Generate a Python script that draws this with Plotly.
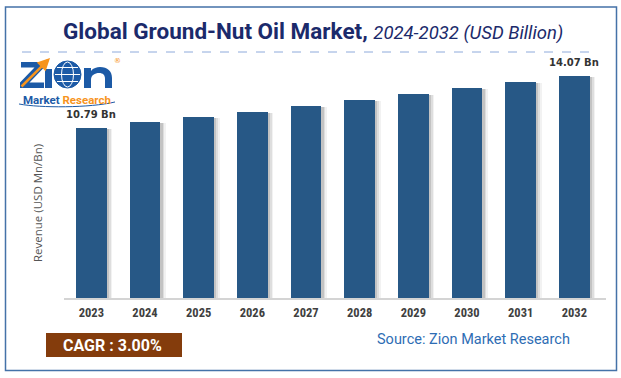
import re
import plotly.graph_objects as go

# ---- data ----
years = ["2023", "2024", "2025", "2026", "2027", "2028", "2029", "2030", "2031", "2032"]
revenue = [10.79, 11.12, 11.44, 11.77, 12.14, 12.51, 12.90, 13.28, 13.66, 14.07]
value_labels = ["10.79 Bn", "", "", "", "", "", "", "", "", "14.07 Bn"]
title_main = "Global Ground-Nut Oil Market,"
title_sub = "2024-2032 (USD Billion)"
y_title = "Revenue (USD Mn/Bn)"
cagr_text = "CAGR : 3.00%"
source_text = "Source: Zion Market Research"

# ---- layout geometry ----
W, H = 621, 378
L, R, T, B = 64, 15, 60, 80
PW, PH = W - L - R, H - T - B


def px(x):
    return (x - L) / PW


def py(y):
    return (H - B - y) / PH


def pth(s):
    """Convert a pixel-space SVG path (M/L/C/Z only) into paper coordinates."""
    toks = re.findall(r"[MLCZ]|-?\d+(?:\.\d+)?", s)
    out, nums = [], []
    for t in toks:
        if t in "MLCZ":
            out.append(t)
        else:
            nums.append(float(t))
            if len(nums) == 2:
                out.append(f"{px(nums[0]):.5f},{py(nums[1]):.5f}")
                nums = []
    return " ".join(out)


BAR_COLOR = "#275886"
NAVY = "#1b2a6b"
LOGO_BLUE = "#1c5aa6"
LOGO_ORANGE = "#f7941d"

fig = go.Figure()

# soft shadows to the right of each bar
drop = 0.06
for off, op in [(0.105, 0.08), (0.075, 0.13), (0.045, 0.2)]:
    fig.add_trace(go.Bar(
        x=years, y=[v - drop for v in revenue], width=0.572, offset=-0.286 + off,
        marker=dict(color=f"rgba(90,90,90,{op})", line=dict(width=0)),
        hoverinfo="skip", showlegend=False,
    ))

fig.add_trace(go.Bar(
    x=years, y=revenue, width=0.572, offset=-0.286,
    marker=dict(color=BAR_COLOR, line=dict(width=0)),
    showlegend=False,
))

annotations = []
for i, (v, lab) in enumerate(zip(revenue, value_labels)):
    if lab:
        annotations.append(dict(
            x=i, y=v, xref="x", yref="y", text=f"<b>{lab}</b>", showarrow=False,
            yanchor="bottom", yshift=6,
            font=dict(family="DejaVu Sans", size=10, color="#333333"),
        ))

# title
annotations.append(dict(
    x=px(313), y=py(31), xref="paper", yref="paper", showarrow=False,
    xanchor="center", yanchor="middle",
    text=(f"<b>{title_main}</b> "
          f"<span style='font-size:18.5px'><i>{title_sub}</i></span>"),
    font=dict(family="Roboto", size=22.5, color=NAVY),
))

# y-axis title
annotations.append(dict(
    x=px(37), y=py(203), xref="paper", yref="paper", showarrow=False,
    text=y_title, textangle=-90, xanchor="center", yanchor="middle",
    font=dict(family="Open Sans", size=11.5, color="#555555"),
))

# CAGR box text
annotations.append(dict(
    x=px(112), y=py(345), xref="paper", yref="paper", showarrow=False,
    text=f"<b>{cagr_text}</b>", xanchor="center", yanchor="middle",
    font=dict(family="Roboto", size=16, color="white"),
))

# source
annotations.append(dict(
    x=px(473), y=py(339), xref="paper", yref="paper", showarrow=False,
    text=source_text, xanchor="center", yanchor="middle",
    font=dict(family="Roboto", size=14.5, color="#2e6db4"),
))

# ---- logo texts ----
annotations += [
    dict(x=px(117), y=py(61), xref="paper", yref="paper", showarrow=False, text="®",
         xanchor="center", yanchor="middle", font=dict(family="DejaVu Sans", size=7, color=LOGO_ORANGE)),
    dict(x=px(66.5), y=py(100), xref="paper", yref="paper", showarrow=False,
         text=(f"<b><span style='color:{LOGO_BLUE}'>Market</span> "
               f"<span style='color:{LOGO_ORANGE}'>Research</span></b>"),
         xanchor="center", yanchor="middle", font=dict(family="Roboto", size=11.5)),
    # orange arrow through the Z
    dict(x=px(50), y=py(58), ax=-30, ay=30, xref="paper", yref="paper",
         axref="pixel", ayref="pixel", showarrow=True, text="",
         arrowhead=2, arrowsize=1, arrowwidth=2.5, arrowcolor=LOGO_ORANGE),
]

shapes = [
    # outer border
    dict(type="rect", xref="paper", yref="paper", x0=px(5.5), x1=px(616.5), y0=py(7), y1=py(370.5),
         line=dict(color="#4472a8", width=1.5), fillcolor="rgba(0,0,0,0)", layer="below"),
    # dashed separator
    dict(type="line", xref="paper", yref="paper", x0=px(22), x1=px(598), y0=py(52), y1=py(52),
         line=dict(color="#8eaadb", width=1, dash="dash")),
    # CAGR box
    dict(type="rect", xref="paper", yref="paper", x0=px(46), x1=px(182), y0=py(333), y1=py(357),
         line=dict(width=0), fillcolor="#843c0c", layer="below"),
    # logo: Z
    dict(type="path", xref="paper", yref="paper",
         path=pth("M 21,62 L 44,62 L 44,67.5 L 29.5,82.5 L 44,82.5 L 44,88 L 20,88 L 20,82.5 "
                  "L 34.5,67.5 L 21,67.5 Z"),
         line=dict(width=0), fillcolor=LOGO_BLUE),
    # logo: i
    dict(type="path", xref="paper", yref="paper",
         path=pth("M 45,69 L 52,69 L 52,88 L 45,88 Z"),
         line=dict(width=0), fillcolor=LOGO_BLUE),
    # logo: globe
    dict(type="circle", xref="paper", yref="paper", x0=px(54), x1=px(81), y0=py(88), y1=py(61),
         line=dict(color=LOGO_BLUE, width=1), fillcolor=LOGO_BLUE),
    dict(type="circle", xref="paper", yref="paper", x0=px(61.5), x1=px(73.5), y0=py(87), y1=py(62),
         line=dict(color="white", width=1), fillcolor="rgba(0,0,0,0)"),
    dict(type="line", xref="paper", yref="paper", x0=px(55), x1=px(80), y0=py(74.5), y1=py(74.5),
         line=dict(color="white", width=1)),
    dict(type="line", xref="paper", yref="paper", x0=px(57), x1=px(78), y0=py(67.5), y1=py(67.5),
         line=dict(color="white", width=1)),
    dict(type="line", xref="paper", yref="paper", x0=px(57), x1=px(78), y0=py(81.5), y1=py(81.5),
         line=dict(color="white", width=1)),
    # logo: n
    dict(type="path", xref="paper", yref="paper",
         path=pth("M 84,88 L 84,68 L 91,68 L 91,71 C 93,68 97,67 100,67 C 107.5,67 112,71 112,78 "
                  "L 112,88 L 105,88 L 105,79 C 105,75 103,73 99,73 C 95,73 91,75 91,80 L 91,88 Z"),
         line=dict(width=0), fillcolor=LOGO_BLUE),
    # logo swoosh underline
    dict(type="path", xref="paper", yref="paper",
         path=pth("M 19,104 C 40,108 90,108 115,102"),
         line=dict(color=LOGO_BLUE, width=1)),
]

fig.update_layout(
    width=W, height=H,
    margin=dict(l=L, r=R, t=T, b=B),
    paper_bgcolor="white", plot_bgcolor="white",
    barmode="overlay", bargap=0,
    xaxis=dict(
        type="category", range=[-0.509, 9.59], showgrid=False, zeroline=False,
        showline=True, linecolor="#d4d4d4", linewidth=1.5,
        ticks="outside", ticklen=2, tickcolor="rgba(0,0,0,0)",
        tickfont=dict(family="Liberation Sans Narrow, Roboto Condensed, Roboto", size=12.5,
                      color="#404040", weight="bold"),
        fixedrange=True,
    ),
    yaxis=dict(range=[0, 15.07], visible=False, fixedrange=True),
    annotations=annotations,
    shapes=shapes,
    showlegend=False,
    hovermode=False,
)

fig.write_html("out.html", config={"displayModeBar": False},
               post_script="document.body.style.margin='0';")
